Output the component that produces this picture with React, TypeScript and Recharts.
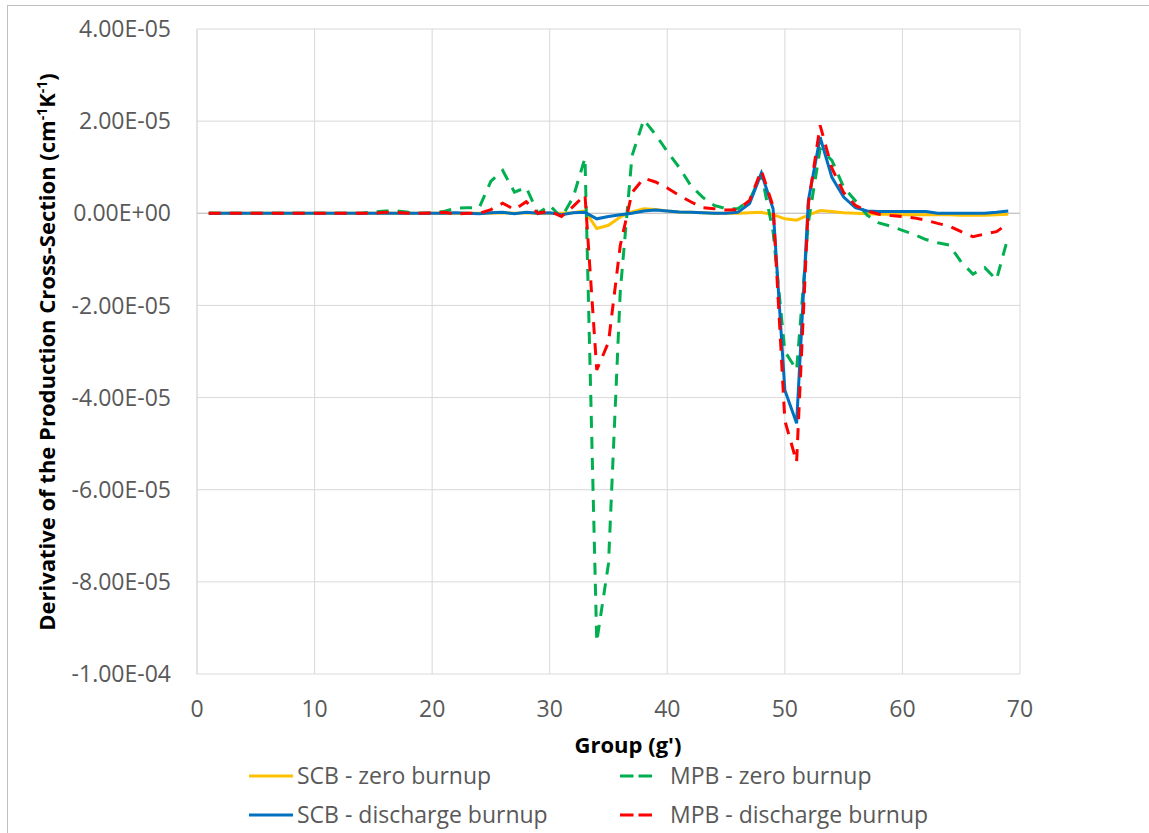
import React from 'react';
import { LineChart, Line, XAxis, YAxis, CartesianGrid, ReferenceLine, Legend, Label } from 'recharts';

// Group numbers (g')
const groups = [
  1, 2, 3, 4, 5, 6, 7, 8, 9, 10, 11, 12, 13, 14, 15, 16, 17, 18, 19, 20,
  21, 22, 23, 24, 25, 26, 27, 28, 29, 30, 31, 32, 33, 34, 35, 36, 37, 38, 39, 40,
  41, 42, 43, 44, 45, 46, 47, 48, 49, 50, 51, 52, 53, 54, 55, 56, 57, 58, 59, 60,
  61, 62, 63, 64, 65, 66, 67, 68, 69,
];

// Values in units of 1E-05 cm-1 K-1
const scbZero = [
  0, 0, 0, 0, 0, 0, 0, 0, 0, 0, 0, 0, 0, 0, 0, 0, 0, 0, 0, 0,
  0, 0, 0, 0, 0, 0.01, 0, 0.01, 0, 0, 0, 0.01,
  0.05,
  -0.33, -0.26, -0.08, 0.03, 0.1, 0.08, 0.05, 0.03, 0.02, 0.01, 0, 0, 0, 0.01, 0.02, -0.03, -0.12, -0.15, -0.04, 0.06, 0.04, 0.01, 0,
  -0.01, -0.02, -0.02, -0.03, -0.03, -0.03, -0.03, -0.03, -0.04, -0.04, -0.04, -0.03,
  -0.02,
];

const scbDischarge = [
  0, 0, 0, 0, 0, 0, 0, 0, 0, 0, 0, 0, 0, 0, 0, 0, 0, 0, 0, 0,
  0, 0.01, 0, -0.01, 0.01, 0.02, -0.01, 0.02, 0, 0.01, -0.03, 0.01,
  0.02,
  -0.12, -0.07, -0.03, 0, 0.05, 0.07, 0.05, 0.03, 0.02, 0.01, 0, 0, 0.02, 0.21, 0.87, 0.1, -3.84, -4.56, 0.28, 1.65, 0.78, 0.35, 0.12,
  0.05, 0.04, 0.04, 0.04, 0.04, 0.04, 0, 0, 0, 0, 0, 0.02,
  0.05,
];

const mpbZero = [
  0, 0, 0, 0, 0, 0, 0, 0, 0, 0, 0, 0, 0, 0,
  0.03, 0.05, 0.05, 0.02, 0, 0.01,
  0.04, 0.11, 0.12, 0.12, 0.7, 0.93, 0.46, 0.56, 0, 0.17, -0.09, 0.35,
  1.2,
  -9.3, -7.6, -1.7, 1.25, 2.03, 1.71, 1.34, 1.0, 0.6, 0.35, 0.17, 0.1, 0.1, 0.28, 0.85, -0.4, -3.0, -3.4, -0.2, 1.4, 1.15, 0.57, 0.27,
  -0.04, -0.21, -0.28, -0.37, -0.46, -0.57, -0.64, -0.69, -1.06, -1.32, -1.18, -1.44,
  -0.5,
];

const mpbDischarge = [
  0, 0, 0, 0, 0, 0, 0, 0, 0, 0, 0, 0, 0, 0, 0,
  0.02, 0.02, 0, 0, 0.01,
  0.02, -0.02, 0, 0, 0.08, 0.22, 0.08, 0.25, 0, 0.05, -0.07, 0.15,
  0.4,
  -3.4, -2.8, -0.7, 0.45, 0.76, 0.68, 0.55, 0.39, 0.25, 0.12, 0.1, 0.07, 0.08, 0.28, 0.93, 0.15, -4.5, -5.4, 0.2, 1.91, 0.98, 0.45, 0.17,
  0.05, -0.02, -0.05, -0.07, -0.1, -0.15, -0.22, -0.28, -0.4, -0.51, -0.45, -0.4,
  -0.22,
];

const xTicks = [0, 10, 20, 30, 40, 50, 60, 70];
const yTicks = [-10, -8, -6, -4, -2, 0, 2, 4];

const seriesNames = {
  scbZero: 'SCB - zero burnup',
  mpbZero: 'MPB - zero burnup',
  scbDischarge: 'SCB - discharge burnup',
  mpbDischarge: 'MPB - discharge burnup',
};

const data = groups.map((g, i) => ({
  g,
  scbZero: scbZero[i],
  mpbZero: mpbZero[i],
  scbDischarge: scbDischarge[i],
  mpbDischarge: mpbDischarge[i],
}));

const FONT = "'Open Sans', 'Noto Sans', sans-serif";
const YELLOW = '#FFC000';
const GREEN = '#00B050';
const BLUE = '#0070C0';
const RED = '#FF0000';

const formatSci = (t: number) => {
  const s = (t * 1e-5).toExponential(2);
  const [m, e] = s.split('e');
  const sign = e[0] === '-' ? '-' : '+';
  const digits = e.replace(/[+-]/, '').padStart(2, '0');
  return `${m}E${sign}${digits}`;
};

const YTitle = () => (
  <text
    x={55}
    y={352}
    transform="rotate(-90 55 352)"
    textAnchor="middle"
    fontFamily={FONT}
    fontWeight="bold"
    fontSize={22}
    fill="#000"
  >
    Derivative of the Production Cross-Section (cm
    <tspan fontSize={14} dy={-8}>-1</tspan>
    <tspan dy={8}>K</tspan>
    <tspan fontSize={14} dy={-8}>-1</tspan>
    <tspan dy={8}>)</tspan>
  </text>
);

const XTitle = () => (
  <text x={628} y={753} textAnchor="middle" fontFamily={FONT} fontWeight="bold" fontSize={22} fill="#000">
    Group (g')
  </text>
);

const LegendContent = () => {
  const items = [
    { key: 'scbZero', color: YELLOW, dashed: false, col: 0, row: 0 },
    { key: 'mpbZero', color: GREEN, dashed: true, col: 1, row: 0 },
    { key: 'scbDischarge', color: BLUE, dashed: false, col: 0, row: 1 },
    { key: 'mpbDischarge', color: RED, dashed: true, col: 1, row: 1 },
  ];
  return (
    <svg width={720} height={80} style={{ display: 'block' }}>
      {items.map((it) => {
        const cy = 21 + it.row * 39;
        const lx0 = it.col === 0 ? 9 : 380;
        const lx1 = it.col === 0 ? 53 : 413;
        const tx = it.col === 0 ? 57 : 430;
        return (
          <g key={it.key}>
            <line
              x1={lx0}
              x2={lx1}
              y1={cy}
              y2={cy}
              stroke={it.color}
              strokeWidth={3}
              strokeDasharray={it.dashed ? '13.5 5' : undefined}
            />
            <text x={tx} y={cy + 8} fontFamily={FONT} fontSize={23} fill="#595959">
              {seriesNames[it.key as keyof typeof seriesNames]}
            </text>
          </g>
        );
      })}
    </svg>
  );
};

export default function App() {
  return (
    <div style={{ position: 'absolute', left: 0, top: 0, width: 1149, height: 833, background: '#fff', overflow: 'hidden' }}>
      <div
        style={{
          position: 'absolute',
          left: 7,
          top: 5,
          width: 1142,
          height: 828,
          borderLeft: '1px solid #BFBFBF',
          borderTop: '1px solid #BFBFBF',
          boxSizing: 'border-box',
        }}
      />
      <div style={{ position: 'absolute', left: 0, top: 0 }}>
        <LineChart
          width={1149}
          height={833}
          data={data}
          margin={{ top: 29, right: 129, bottom: 99, left: 0 }}
          style={{ fontFamily: FONT }}
        >
          <CartesianGrid stroke="#D9D9D9" strokeWidth={1} />
          <XAxis
            type="number"
            dataKey="g"
            domain={[0, 70]}
            ticks={xTicks}
            axisLine={false}
            tickLine={false}
            tickSize={0}
            tickMargin={27}
            height={60}
            tick={{ fill: '#595959', fontSize: 23, fontFamily: FONT }}
            interval={0}
          >
            <Label content={XTitle} />
          </XAxis>
          <YAxis
            width={197}
            domain={[-10, 4]}
            ticks={yTicks}
            tickFormatter={formatSci}
            axisLine={{ stroke: '#D9D9D9' }}
            tickLine={false}
            tickSize={0}
            tickMargin={26}
            tick={{ fill: '#595959', fontSize: 23, fontFamily: FONT }}
            interval={0}
          >
            <Label content={YTitle} />
          </YAxis>
          <ReferenceLine y={0} stroke="#BFBFBF" strokeWidth={1} />
          <Line
            type="linear"
            dataKey="scbZero"
            name={seriesNames.scbZero}
            stroke={YELLOW}
            strokeWidth={3}
            dot={false}
            activeDot={false}
            isAnimationActive={false}
          />
          <Line
            type="linear"
            dataKey="mpbZero"
            name={seriesNames.mpbZero}
            stroke={GREEN}
            strokeWidth={3}
            strokeDasharray="12 9"
            dot={false}
            activeDot={false}
            isAnimationActive={false}
          />
          <Line
            type="linear"
            dataKey="scbDischarge"
            name={seriesNames.scbDischarge}
            stroke={BLUE}
            strokeWidth={3}
            dot={false}
            activeDot={false}
            isAnimationActive={false}
          />
          <Line
            type="linear"
            dataKey="mpbDischarge"
            name={seriesNames.mpbDischarge}
            stroke={RED}
            strokeWidth={3}
            strokeDasharray="12 9"
            dot={false}
            activeDot={false}
            isAnimationActive={false}
          />
          <Legend
            layout="vertical"
            align="center"
            verticalAlign="middle"
            wrapperStyle={{ left: 240, top: 755, width: 720, height: 80 }}
            content={LegendContent}
          />
        </LineChart>
      </div>
    </div>
  );
}
